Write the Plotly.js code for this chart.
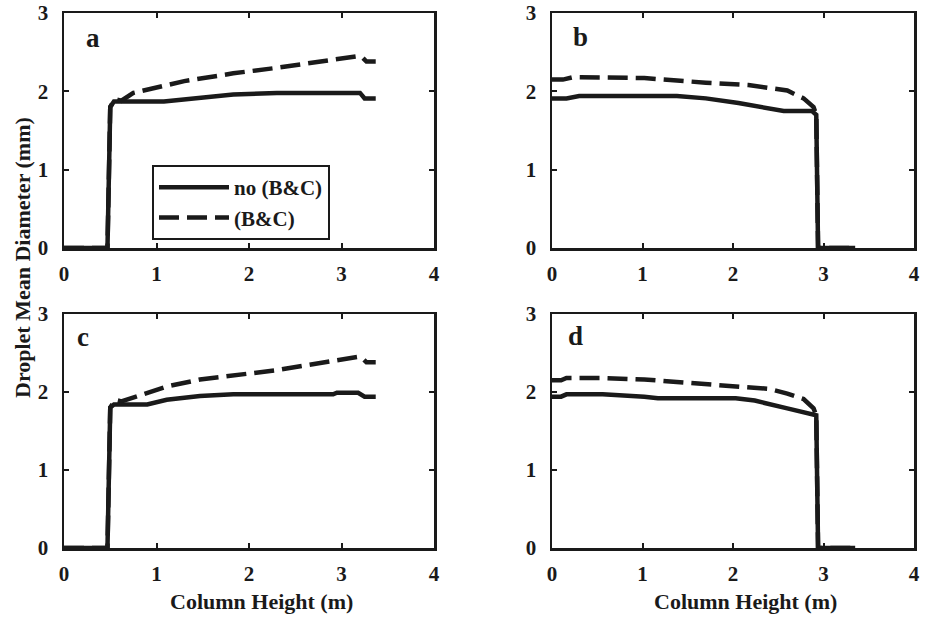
<!DOCTYPE html>
<html><head><meta charset="utf-8">
<script src="https://cdn.plot.ly/plotly-3.0.1.min.js"></script>
<style>html,body{margin:0;padding:0;background:#fff}</style>
</head><body>
<div id="chart" style="width:925px;height:618px"></div>
<script>
// Panel a
const xA_solid = [0, 0.47, 0.50, 0.54, 1.08, 1.3, 1.6, 1.83, 2.3, 3.2, 3.25, 3.37];
const yA_solid = [0, 0, 1.80, 1.87, 1.87, 1.90, 1.93, 1.96, 1.98, 1.98, 1.91, 1.91];
const xA_dash = [0, 0.47, 0.50, 0.55, 0.62, 0.75, 1.3, 1.83, 2.3, 2.91, 3.18, 3.22, 3.27, 3.37];
const yA_dash = [0, 0, 1.80, 1.90, 1.88, 1.98, 2.13, 2.23, 2.30, 2.40, 2.45, 2.44, 2.38, 2.38];
// Panel b
const xB_solid = [0, 0.16, 0.3, 1.38, 1.7, 2.06, 2.56, 2.87, 2.92, 2.94, 3.35];
const yB_solid = [1.91, 1.91, 1.94, 1.94, 1.91, 1.85, 1.75, 1.75, 1.70, 0, 0];
const xB_dash = [0, 0.12, 0.23, 1.02, 1.7, 2.17, 2.6, 2.78, 2.89, 2.92, 2.94, 3.35];
const yB_dash = [2.15, 2.15, 2.18, 2.17, 2.11, 2.08, 2.01, 1.91, 1.80, 1.70, 0, 0];
// Panel c
const xC_solid = [0, 0.47, 0.50, 0.54, 0.9, 1.11, 1.47, 1.83, 2.91, 2.95, 3.18, 3.25, 3.37];
const yC_solid = [0, 0, 1.80, 1.84, 1.84, 1.90, 1.95, 1.97, 1.97, 1.99, 1.99, 1.94, 1.94];
const xC_dash = [0, 0.47, 0.50, 0.55, 0.62, 0.75, 1.11, 1.47, 1.83, 2.3, 2.91, 3.18, 3.22, 3.27, 3.37];
const yC_dash = [0, 0, 1.80, 1.90, 1.88, 1.93, 2.07, 2.16, 2.21, 2.28, 2.40, 2.45, 2.44, 2.38, 2.38];
// Panel d
const xD_solid = [0, 0.1, 0.16, 0.56, 1.02, 1.17, 2.03, 2.24, 2.6, 2.87, 2.92, 2.94, 3.35];
const yD_solid = [1.94, 1.94, 1.97, 1.97, 1.94, 1.92, 1.92, 1.89, 1.79, 1.72, 1.70, 0, 0];
const xD_dash = [0, 0.1, 0.16, 0.56, 1.02, 1.5, 2.0, 2.4, 2.6, 2.78, 2.89, 2.92, 2.94, 3.35];
const yD_dash = [2.15, 2.15, 2.18, 2.18, 2.16, 2.12, 2.07, 2.04, 1.98, 1.91, 1.79, 1.70, 0, 0];

const seriesNames = ['no (B&C)', '(B&C)'];
const panelLabels = ['a', 'b', 'c', 'd'];
const panelLabelX = [0.31, 0.31, 0.2, 0.26];
const panelLabelY = [2.68, 2.7, 2.7, 2.72];
const xTicks = [0, 1, 2, 3, 4];
const yTicks = [0, 1, 2, 3];
const xTitle = 'Column Height (m)';
const yTitle = 'Droplet Mean Diameter (mm)';

const INK = '#1a1a1a';
const FONT = '"Liberation Serif", "Times New Roman", serif';

const panels = [
  {xs: xA_solid, ys: yA_solid, xd: xA_dash, yd: yA_dash, xa: 'x', ya: 'y'},
  {xs: xB_solid, ys: yB_solid, xd: xB_dash, yd: yB_dash, xa: 'x2', ya: 'y2'},
  {xs: xC_solid, ys: yC_solid, xd: xC_dash, yd: yC_dash, xa: 'x3', ya: 'y3'},
  {xs: xD_solid, ys: yD_solid, xd: xD_dash, yd: yD_dash, xa: 'x4', ya: 'y4'}
];

const traces = [];
panels.forEach((p, i) => {
  traces.push({x: p.xd, y: p.yd, xaxis: p.xa, yaxis: p.ya, mode: 'lines', name: seriesNames[1],
    legendgroup: 'g2', legendrank: 2, showlegend: i === 0,
    line: {color: INK, width: 4.5, dash: '20px,8px'}});
  traces.push({x: p.xs, y: p.ys, xaxis: p.xa, yaxis: p.ya, mode: 'lines', name: seriesNames[0],
    legendgroup: 'g1', legendrank: 1, showlegend: i === 0,
    line: {color: INK, width: 4.5}});
});

const W = 925, H = 618;
function xd(l, r) { return [l / W, r / W]; }
function yd(t, b) { return [1 - b / H, 1 - t / H]; }

function tickFont() { return {family: FONT, size: 21, color: INK, weight: 'bold'}; }

function xAxis(dom, anchor) {
  return {domain: dom, anchor: anchor, range: [0, 4], tickmode: 'array', tickvals: xTicks, ticktext: xTicks.map(String),
    showline: true, mirror: 'ticks', linecolor: INK, linewidth: 2.5, ticks: 'inside', ticklen: 5,
    tickwidth: 2, tickcolor: INK, showgrid: false, zeroline: false, ticklabelstandoff: 5,
    tickfont: tickFont(), fixedrange: true};
}
function yAxis(dom, anchor) {
  return {domain: dom, anchor: anchor, range: [0, 3], tickmode: 'array', tickvals: yTicks, ticktext: yTicks.map(String),
    showline: true, mirror: 'ticks', linecolor: INK, linewidth: 2.5, ticks: 'inside', ticklen: 5,
    tickwidth: 2, tickcolor: INK, showgrid: false, zeroline: false, ticklabelstandoff: 9,
    tickfont: tickFont(), fixedrange: true};
}

const colL = xd(64, 434), colR = xd(552, 914);
const rowT = yd(13, 248), rowB = yd(314, 548);

const annotations = [];
const axPairs = [['x', 'y'], ['x2', 'y2'], ['x3', 'y3'], ['x4', 'y4']];
panelLabels.forEach((lab, i) => {
  annotations.push({text: lab, xref: axPairs[i][0], yref: axPairs[i][1], x: panelLabelX[i], y: panelLabelY[i],
    xanchor: 'center', yanchor: 'middle',
    showarrow: false, font: {family: FONT, size: 27, color: INK, weight: 'bold'}});
});
annotations.push({text: yTitle, xref: 'paper', yref: 'paper', x: 22 / W, y: 1 - 258 / H, textangle: -90,
  xanchor: 'center', yanchor: 'middle',
  showarrow: false, font: {family: FONT, size: 22, color: INK, weight: 'bold'}});
annotations.push({text: xTitle, xref: 'paper', yref: 'paper', x: 261 / W, y: 1 - 601 / H,
  xanchor: 'center', yanchor: 'middle',
  showarrow: false, font: {family: FONT, size: 22, color: INK, weight: 'bold'}});
annotations.push({text: xTitle, xref: 'paper', yref: 'paper', x: 745 / W, y: 1 - 601 / H,
  xanchor: 'center', yanchor: 'middle',
  showarrow: false, font: {family: FONT, size: 22, color: INK, weight: 'bold'}});

const layout = {
  width: W, height: H, margin: {l: 0, r: 0, t: 0, b: 0},
  paper_bgcolor: '#fff', plot_bgcolor: '#fff',
  font: {family: FONT, color: INK},
  xaxis: xAxis(colL, 'y'), yaxis: yAxis(rowT, 'x'),
  xaxis2: xAxis(colR, 'y2'), yaxis2: yAxis(rowT, 'x2'),
  xaxis3: xAxis(colL, 'y3'), yaxis3: yAxis(rowB, 'x3'),
  xaxis4: xAxis(colR, 'y4'), yaxis4: yAxis(rowB, 'x4'),
  showlegend: true,
  legend: {x: 152 / W, y: 1 - 165 / H, xanchor: 'left', yanchor: 'top', bgcolor: '#fff',
    bordercolor: INK, borderwidth: 2, itemwidth: 70, tracegroupgap: 14, traceorder: 'normal',
    font: {family: FONT, size: 21, color: INK, weight: 'bold'}},
  annotations: annotations
};

Plotly.newPlot('chart', traces, layout, {staticPlot: true, displayModeBar: false});
</script>
</body></html>
